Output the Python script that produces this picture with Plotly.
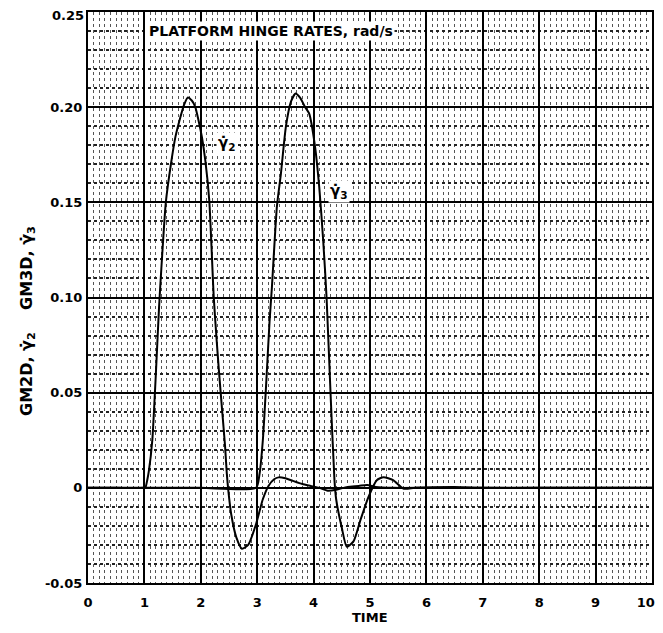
import plotly.graph_objects as go

# Time samples and rates
t_g2 = [0, 0.5, 1.0, 1.02, 1.05, 1.08, 1.14, 1.2, 1.26, 1.3, 1.38, 1.47, 1.55, 1.64, 1.7, 1.77,
        1.84, 1.9, 1.96, 2.02, 2.08, 2.15, 2.23, 2.28, 2.32, 2.38, 2.43, 2.46, 2.49, 2.54, 2.63,
        2.73, 2.84, 2.98, 3.1, 3.2, 3.3, 3.38, 3.5, 3.6, 3.8, 3.95, 4.1, 4.25, 4.4, 4.6, 4.8,
        4.95, 5.1, 5.4, 6.0, 7.0, 8.0, 9.0, 10.0]
g2 = [0, 0, 0, 0.0003, 0.004, 0.009, 0.025, 0.058, 0.095, 0.115, 0.15, 0.17, 0.1844, 0.195,
      0.201, 0.2051, 0.2035, 0.2003, 0.193, 0.1842, 0.172, 0.151, 0.10, 0.078, 0.062, 0.04,
      0.022, 0.008, -0.002, -0.014, -0.026, -0.032, -0.030, -0.019, -0.006, 0.001, 0.0045,
      0.0055, 0.005, 0.004, 0.002, 0.001, 0.0, -0.0015, -0.001, 0.0005, 0.001, 0.0015, 0.0005,
      0.0, 0.0, 0.0, 0.0, 0.0, 0.0]

t_g3 = [0, 1.0, 2.0, 2.98, 3.04, 3.1, 3.16, 3.22, 3.26, 3.35, 3.42, 3.51, 3.6, 3.68, 3.76,
        3.85, 3.92, 4.02, 4.1, 4.17, 4.23, 4.3, 4.37, 4.4, 4.5, 4.59, 4.71, 4.83, 4.97, 5.12,
        5.24, 5.41, 5.59, 5.8, 6.5, 7.0, 8.0, 9.0, 10.0]
g3 = [0, 0, 0, 0, 0.007, 0.025, 0.055, 0.088, 0.105, 0.148, 0.165, 0.19, 0.203, 0.2072, 0.205,
      0.2, 0.1967, 0.1805, 0.158, 0.13, 0.10, 0.05, 0.004, -0.006, -0.021, -0.031, -0.028,
      -0.017, -0.005, 0.004, 0.0056, 0.004, -0.0004, 0.0, 0.0005, 0.0, 0.0, 0.0, 0.0]

y_ticks = [-0.05, 0, 0.05, 0.10, 0.15, 0.20, 0.25]
y_labels = ["-0.05", "0", "0.05", "0.10", "0.15", "0.20", "0.25"]
x_ticks = list(range(0, 11))
x_labels = [str(v) for v in x_ticks]

FONT = "DejaVu Sans"

# page body has an 8px margin; keep the figure inside the visible page
BODY = 8
W, H = 647, 617
L, T = 88 - BODY, 12 - BODY
PW, PH = 564, 571
R, B = W - L - PW, H - T - PH


def px(X):
    return (X - 88) / PW


def py(Y):
    return 1 - (Y - 12) / PH


x_text = [f"<b>{s}</b>" for s in x_labels]
x_text[-1] = x_text[-1] + "\u00a0\u00a0\u00a0"  # keep last label inside the page edge
y_text = [f"<b>{s}</b>" for s in y_labels]
y_text[-1] = ""  # top label drawn below as an annotation so it is not cut by the page edge

fig = go.Figure()
fig.add_trace(go.Scatter(x=t_g2, y=g2, mode="lines", line=dict(color="black", width=2, shape="spline", smoothing=0.6),
                         showlegend=False, hoverinfo="skip"))
fig.add_trace(go.Scatter(x=t_g3, y=g3, mode="lines", line=dict(color="black", width=2, shape="spline", smoothing=0.6),
                         showlegend=False, hoverinfo="skip"))

fig.update_layout(
    width=W, height=H,
    margin=dict(l=L, r=R, t=T, b=B, pad=0, autoexpand=False),
    paper_bgcolor="white", plot_bgcolor="white",
    font=dict(family=FONT, color="black"),
    xaxis=dict(
        range=[0, 10], tickmode="array", tickvals=x_ticks, ticktext=x_text,
        showgrid=True, gridcolor="black", gridwidth=1.5,
        minor=dict(dtick=0.1, showgrid=True, gridcolor="#555", griddash="dot", gridwidth=1),
        showline=True, linecolor="black", linewidth=2, mirror=True,
        ticks="", zeroline=False, tickfont=dict(size=13, family=FONT), ticklabelstandoff=6,
        ticklabeloverflow="allow", automargin=False,
    ),
    yaxis=dict(
        range=[-0.05, 0.25], tickmode="array", tickvals=y_ticks, ticktext=y_text,
        showgrid=True, gridcolor="black", gridwidth=1.5,
        minor=dict(dtick=0.01, showgrid=True, gridcolor="#222", griddash="dot", gridwidth=1.5),
        showline=True, linecolor="black", linewidth=2, mirror=True,
        ticks="", zeroline=False, tickfont=dict(size=13, family=FONT), ticklabelstandoff=1,
        ticklabeloverflow="allow", automargin=False,
    ),
)

fig.add_annotation(text=f"<b>{y_labels[-1]}</b>", x=0, y=y_ticks[-1], xref="paper", yref="y",
                   xanchor="right", yanchor="middle", xshift=-2, yshift=-3, showarrow=False,
                   font=dict(size=13, family=FONT))
fig.add_annotation(text="<b>PLATFORM HINGE RATES, rad/s</b>", x=px(147), y=py(31), xref="paper", yref="paper",
                   showarrow=False, font=dict(size=14, family=FONT), bgcolor="white",
                   xanchor="left", yanchor="middle", borderpad=1)
fig.add_annotation(text="<b>γ̇<sub>2</sub></b>", x=2.47, y=0.181, xref="x", yref="y", showarrow=False,
                   font=dict(size=15, family=FONT), bgcolor="white", borderpad=1)
fig.add_annotation(text="<b>γ̇<sub>3</sub></b>", x=4.45, y=0.1557, xref="x", yref="y", showarrow=False,
                   font=dict(size=15, family=FONT), bgcolor="white", borderpad=1)
fig.add_annotation(text="<b>GM2D, γ̇<sub>2</sub>    GM3D, γ̇<sub>3</sub></b>", x=px(27), y=py(321),
                   xref="paper", yref="paper", showarrow=False, textangle=-90,
                   font=dict(size=16, family=FONT), xanchor="center", yanchor="middle")
fig.add_annotation(text="<b>TIME</b>", x=px(370), y=py(617), xref="paper", yref="paper",
                   showarrow=False, font=dict(size=13, family=FONT), xanchor="center", yanchor="middle")

fig.write_html("out.html")
